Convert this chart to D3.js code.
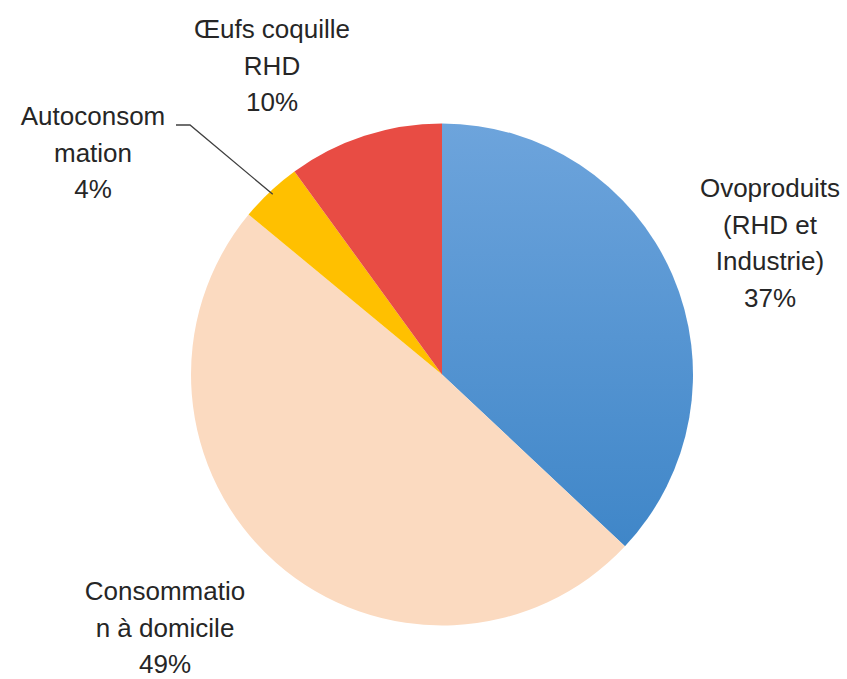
<!DOCTYPE html>
<html lang="fr">
<head>
<meta charset="UTF-8">
<title>Débouchés des œufs</title>
<script src="https://d3js.org/d3.v7.min.js"></script>
<style>
  body { margin: 0; background: #fff; }
  svg text { font-family: "Liberation Sans", Arial, sans-serif; fill: #262626; }
</style>
</head>
<body>
<svg id="chart" width="847" height="679"></svg>
<script>
// Data (clockwise from 12 o'clock)
const categories = ["Ovoproduits (RHD et Industrie)", "Consommation à domicile", "Autoconsommation", "Œufs coquille RHD"];
const values = [37, 49, 4, 10];
const labelLines = [
  ["Ovoproduits", "(RHD et", "Industrie)", "37%"],
  ["Consommatio", "n à domicile", "49%"],
  ["Autoconsom", "mation", "4%"],
  ["Œufs coquille", "RHD", "10%"]
];

// Layout
const W = 847, H = 679;
const cx = 442, cy = 374.5, R = 251;
const colors = ["url(#blueGrad)", "#FBDAC0", "#FFC000", "#E84C44"];
// label anchor (centre x, first baseline y)
const labelAnchors = [[770, 197], [165, 600], [93, 125], [272, 38]];
const lineHeight = 36.5;

const svg = d3.select("#chart");
const defs = svg.append("defs");
// gradient coordinates are in the pie group's local space (centre at 0,0)
const grad = defs.append("linearGradient")
  .attr("id", "blueGrad")
  .attr("gradientUnits", "userSpaceOnUse")
  .attr("x1", 0).attr("y1", -R).attr("x2", 0).attr("y2", R * 0.7);
grad.append("stop").attr("offset", "0%").attr("stop-color", "#6DA4DC");
grad.append("stop").attr("offset", "100%").attr("stop-color", "#3F86C8");

const pie = d3.pie().sort(null).value(d => d);
const arc = d3.arc().innerRadius(0).outerRadius(R);
const arcs = pie(values);

const g = svg.append("g").attr("transform", `translate(${cx},${cy})`);
g.selectAll("path")
  .data(arcs)
  .enter().append("path")
  .attr("d", arc)
  .attr("fill", (d, i) => colors[i]);

// Leader line for Autoconsommation
const a = arcs[2];
const mid = (a.startAngle + a.endAngle) / 2;
const px = cx + Math.sin(mid) * R * 0.985, py = cy - Math.cos(mid) * R * 0.985;
svg.append("polyline")
  .attr("points", `176,125 190,125 ${px},${py}`)
  .attr("fill", "none")
  .attr("stroke", "#404040")
  .attr("stroke-width", 1.3);

// Labels
labelLines.forEach((lines, i) => {
  const [lx, ly] = labelAnchors[i];
  const t = svg.append("text")
    .attr("text-anchor", "middle")
    .attr("font-size", 26);
  lines.forEach((s, j) => {
    t.append("tspan").attr("x", lx).attr("y", ly + j * lineHeight).text(s);
  });
});
</script>
</body>
</html>
